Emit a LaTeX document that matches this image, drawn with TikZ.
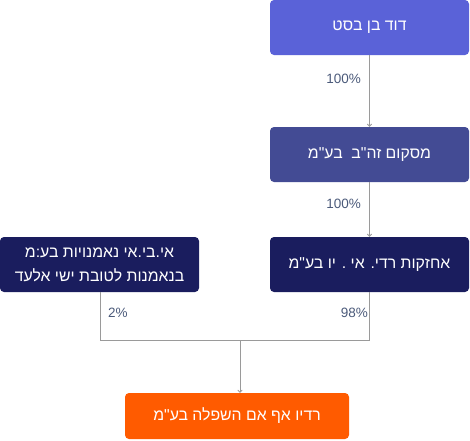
\documentclass[tikz,border=0pt]{standalone}
\usepackage{fontspec}
\setmainfont{Liberation Sans}
\newfontfamily\hebfont[Script=Hebrew]{Liberation Sans}
\TeXXeTstate=1
\usetikzlibrary{arrows.meta}
\definecolor{cA}{HTML}{5A62D8}
\definecolor{cB}{HTML}{434B94}
\definecolor{cC}{HTML}{1A1D5E}
\definecolor{cOr}{HTML}{FF5B00}
\definecolor{cLine}{HTML}{9A9A9A}
\definecolor{cLab}{HTML}{4B5A7A}
\tikzset{
  entbox/.style={rounded corners=4pt, minimum width=199pt, minimum height=55pt,
    text=white, font=\hebfont\fontsize{15.8}{19}\selectfont, align=center, inner sep=0pt},
  conn/.style={draw=cLine, line width=0.9pt},
  connarr/.style={conn, -{To[length=3pt,width=5pt]}},
  pct/.style={text=cLab, font=\fontsize{13.5}{15}\selectfont, inner sep=0pt}
}
\begin{document}
\begin{tikzpicture}[x=1pt,y=-1pt]
\useasboundingbox (0,0) rectangle (470,440);
\node[entbox, fill=cA] (b1) at (369.5,27.5) {\beginR דוד בן בסט\endR};
\node[entbox, fill=cB] (b2) at (369.5,154.5) {\beginR מסקום זה"ב\ \ בע"מ\endR};
\node[entbox, fill=cC] (b3) at (369.5,264.5) {\beginR אחזקות רדי. אי . יו בע"מ\endR};
\node[entbox, fill=cC] (b4) at (99.5,264.5) {\beginR אי.בי.אי נאמנויות בע:מ\endR\\[5pt]\beginR בנאמנות לטובת ישי אלעד\endR};
\node[entbox, fill=cOr, minimum width=224pt, minimum height=46pt] (b5) at (237,416) {\beginR רדיו אף אם השפלה בע"מ\endR};
\coordinate (j) at (240,340);
\draw[connarr] (b1.south) -- (b2.north);
\draw[connarr] (b2.south) -- (b3.north);
\draw[conn] (b4.south -| 100,0) |- (j) -| (b3.south);
\draw[connarr] (j) -- (j |- b5.north);
\node[pct, anchor=east] (p1) at (361,79) {100\%};
\node[pct, anchor=east] (p2) at (361,204) {100\%};
\node[pct, anchor=west] (p3) at (108,313) {2\%};
\node[pct, anchor=east] (p4) at (368,313) {98\%};
\end{tikzpicture}
\end{document}
